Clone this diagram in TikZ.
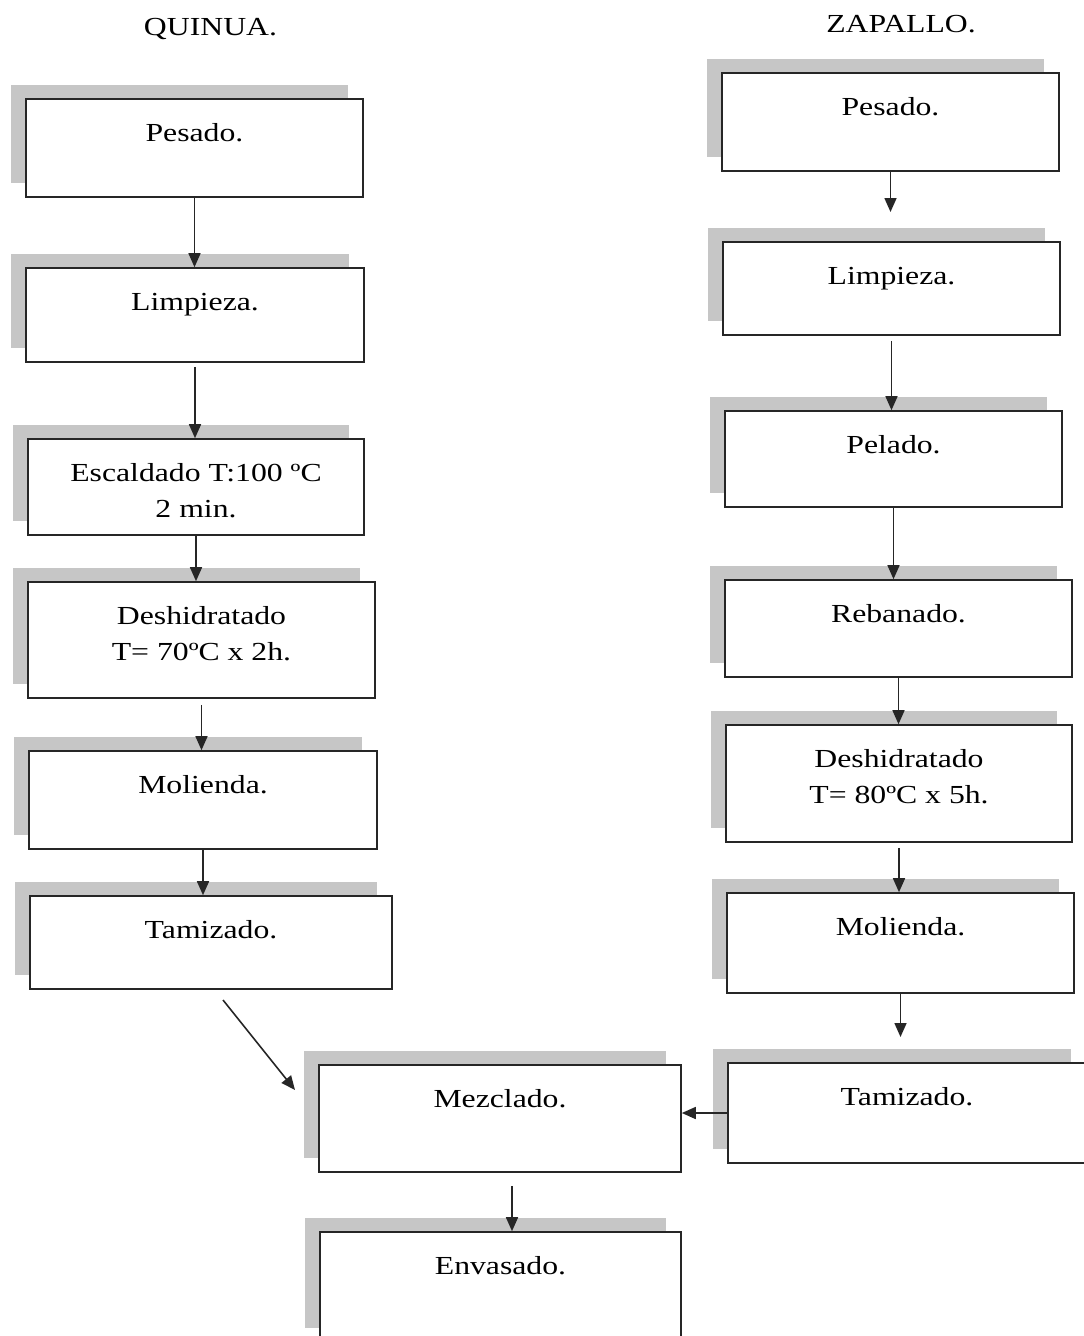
\documentclass[tikz,border=0pt]{standalone}
\usepackage{fontspec}
\setmainfont[FakeStretch=1.22]{Liberation Serif}
\usetikzlibrary{arrows.meta,shadows}

\begin{document}
\begin{tikzpicture}[x=1pt, y=-1pt,
			box/.style={draw=black!85, fill=white, line width=1.6pt, inner ysep=0pt, text height=42pt, align=center,
				general shadow={shadow xshift=-15pt, shadow yshift=14pt, fill=gray!45}},
			twoline/.style={text height=78.5pt},
			title/.style={anchor=base},
			flow/.style={->, line width=1.6pt, draw=black!85},
			>={Triangle[length=14pt,width=12pt]}, font=\fontsize{26}{36.5}\selectfont]
			\useasboundingbox (0,0) rectangle (1084,1336);
			\node[title] (tq) at (210.5,35) {QUINUA.};
			\node[title] (tz) at (901,32) {ZAPALLO.};
			% quinua
			\node[box, minimum width=337pt, text depth=56pt] (q1) at (194.5,148) {Pesado.};
			\node[box, minimum width=338pt, text depth=52pt] (q2) at (195,315) {Limpieza.};
			\node[box, twoline, minimum width=336pt, text depth=17.5pt] (q3) at (196,487) {Escaldado T:100 ºC\\2 min.};
			\node[box, twoline, minimum width=347pt, text depth=37.5pt] (q4) at (201.5,640) {Deshidratado\\T= 70ºC x 2h.};
			\node[box, minimum width=348pt, text depth=56pt] (q5) at (203,800) {Molienda.};
			\node[box, minimum width=362pt, text depth=51pt] (q6) at (211,942.5) {Tamizado.};
			% zapallo
			\node[box, minimum width=337pt, text depth=56pt] (z1) at (890.5,122) {Pesado.};
			\node[box, minimum width=337pt, text depth=51pt] (z2) at (891.5,288.5) {Limpieza.};
			\node[box, minimum width=337pt, text depth=54pt] (z3) at (893.5,459) {Pelado.};
			\node[box, minimum width=347pt, text depth=55pt] (z4) at (898.5,628.5) {Rebanado.};
			\node[box, twoline, minimum width=346pt, text depth=38.5pt] (z5) at (899,783.5) {Deshidratado\\T= 80ºC x 5h.};
			\node[box, minimum width=347pt, text depth=58pt] (z6) at (900.5,943) {Molienda.};
			\node[box, minimum width=358pt, text depth=58pt] (z7) at (907,1113) {Tamizado.};
			% mezcla
			\node[box, minimum width=362pt, text depth=65pt] (mez) at (500,1118.5) {Mezclado.};
			\node[box, minimum width=361pt, text depth=68pt] (env) at (500.5,1287) {Envasado.};
			\coordinate (qout) at (223,1000);
			\coordinate (mzin) at (295,1090);
			\coordinate (z2in) at (890.5,212);
			\coordinate (z7in) at (900.5,1037);
			\draw[flow] (q1.south) -- (q1.south |- q2.north);
			\draw[flow, shorten <=4pt] (q2.south) -- (q2.south |- q3.north);
			\draw[flow] (q3.south) -- (q3.south |- q4.north);
			\draw[flow, shorten <=6pt] (q4.south) -- (q4.south |- q5.north);
			\draw[flow] (q5.south) -- (q5.south |- q6.north);
			\draw[flow] (qout) -- (mzin);
			\draw[flow] (z1.south) -- (z2in);
			\draw[flow, shorten <=5pt] (z2.south) -- (z2.south |- z3.north);
			\draw[flow] (z3.south) -- (z3.south |- z4.north);
			\draw[flow] (z4.south) -- (z4.south |- z5.north);
			\draw[flow, shorten <=5pt] (z5.south) -- (z5.south |- z6.north);
			\draw[flow] (z6.south) -- (z7in);
			\draw[flow] (z7.west) -- (z7.west -| mez.east);
			\draw[flow, shorten <=13pt] ([xshift=12pt]mez.south) -- ([xshift=12pt]mez.south |- env.north);
		\end{tikzpicture}
\end{document}
